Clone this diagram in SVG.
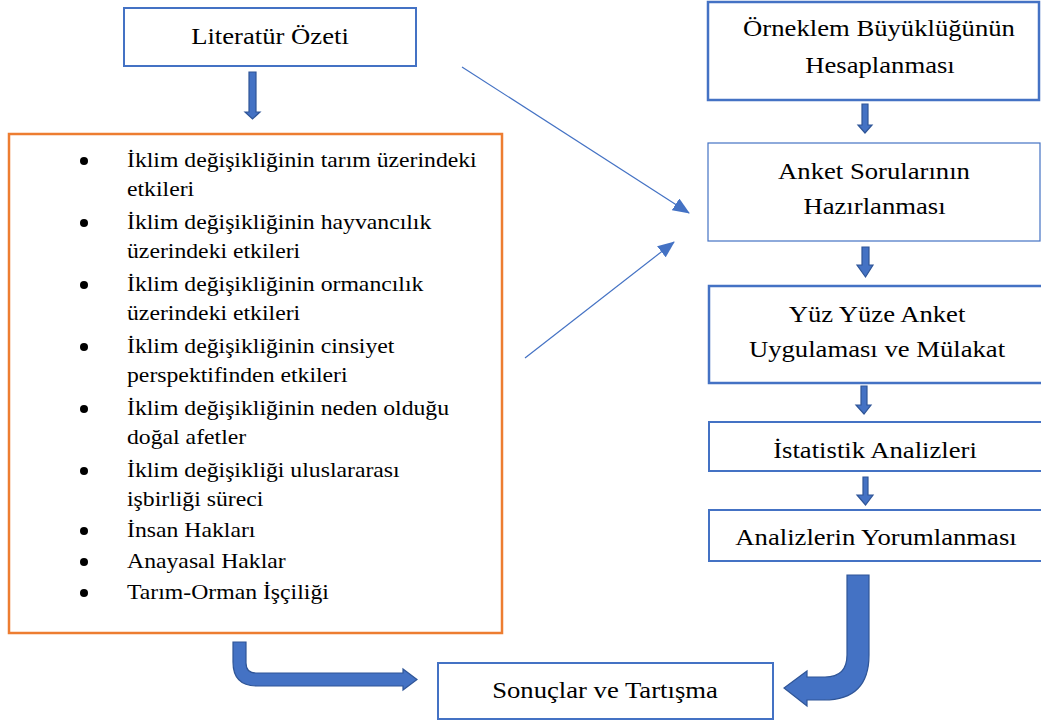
<svg xmlns="http://www.w3.org/2000/svg" width="1041" height="722" viewBox="0 0 1041 722">
<style>
  .box { fill: #ffffff; stroke: #4472C4; stroke-width: 2; }
  .obox { fill: #ffffff; stroke: #ED7D31; stroke-width: 2.5; }
  .lbl { font-size: 23px; fill: #000; text-anchor: middle; }
  .li { font-size: 21px; fill: #000; }
  .blk { fill: #4472C4; stroke: #2F5597; stroke-width: 1.2; stroke-linejoin: miter; }
  .thin { stroke: #4472C4; stroke-width: 1.2; fill: none; }
</style>
<defs>
  <marker id="ah" markerWidth="17" markerHeight="14" refX="16" refY="7" orient="auto" markerUnits="userSpaceOnUse" viewBox="0 0 17 14">
    <path d="M0,0 L17,7 L0,14 Z" fill="#4472C4"/>
  </marker>
</defs>
<rect width="1041" height="722" fill="#ffffff"/>

<g id="connectors">
  <path class="blk" d="M249,72 L256,72 L256,112 L260,112 L252.5,119 L245,112 L249,112 Z"/>
  <path class="blk" d="M862,104 L868,104 L868,125 L872,125 L865,133 L858,125 L862,125 Z"/>
  <path class="blk" d="M862,247 L869,247 L869,265 L873,265 L865.5,277 L857,265 L862,265 Z"/>
  <path class="blk" d="M861,386 L867,386 L867,405 L871,405 L864,414 L856,405 L861,405 Z"/>
  <path class="blk" d="M863,477 L868,477 L868,495 L873,495 L865.5,505 L857,495 L863,495 Z"/>
  <path class="blk" d="M233,642 L246,642 L246,663 Q246,673 256,673 L403,673 L403,669 L417,679.5 L403,690 L403,686 L257,686 Q233,686 233,662 Z"/>
  <path class="blk" d="M847,575 L869,575 L869,655 Q869,700 824,700 L807,700 L807,706 L784,688 L807,671 L807,677 L825,677 Q847,677 847,655 Z"/>
  <line class="thin" x1="462" y1="67" x2="689" y2="213" marker-end="url(#ah)"/>
  <line class="thin" x1="525" y1="358" x2="674" y2="242" marker-end="url(#ah)"/>
</g>

<g font-family="'Liberation Serif', 'Times New Roman', Times, serif">
<g id="literatur">
  <rect class="box" x="124" y="8" width="292" height="58"/>
  <text class="lbl" transform="translate(270,44) scale(1.16,1)">Literatür Özeti</text>
</g>

<g id="liste">
  <rect class="obox" x="9" y="134" width="493" height="499"/>
  <g fill="#000">
    <circle cx="84" cy="161" r="4"/>
    <circle cx="84" cy="223" r="4"/>
    <circle cx="84" cy="285" r="4"/>
    <circle cx="84" cy="347" r="4"/>
    <circle cx="84" cy="409" r="4"/>
    <circle cx="84" cy="471" r="4"/>
    <circle cx="84" cy="531" r="4"/>
    <circle cx="84" cy="562" r="4"/>
    <circle cx="84" cy="593" r="4"/>
  </g>
  <g transform="scale(1.13,1)">
    <text class="li" x="112.4" y="167">İklim değişikliğinin tarım üzerindeki</text>
    <text class="li" x="112.4" y="196">etkileri</text>
    <text class="li" x="112.4" y="229">İklim değişikliğinin hayvancılık</text>
    <text class="li" x="112.4" y="258">üzerindeki etkileri</text>
    <text class="li" x="112.4" y="291">İklim değişikliğinin ormancılık</text>
    <text class="li" x="112.4" y="320">üzerindeki etkileri</text>
    <text class="li" x="112.4" y="353">İklim değişikliğinin cinsiyet</text>
    <text class="li" x="112.4" y="382">perspektifinden etkileri</text>
    <text class="li" x="112.4" y="415">İklim değişikliğinin neden olduğu</text>
    <text class="li" x="112.4" y="444">doğal afetler</text>
    <text class="li" x="112.4" y="477">İklim değişikliği uluslararası</text>
    <text class="li" x="112.4" y="506">işbirliği süreci</text>
    <text class="li" x="112.4" y="537">İnsan Hakları</text>
    <text class="li" x="112.4" y="568">Anayasal Haklar</text>
    <text class="li" x="112.4" y="599">Tarım-Orman İşçiliği</text>
  </g>
</g>

<g id="orneklem">
  <rect class="box" x="708" y="2" width="331" height="98" style="stroke-width:2.5"/>
  <text class="lbl" transform="translate(879,36) scale(1.16,1)">Örneklem Büyüklüğünün</text>
  <text class="lbl" transform="translate(880,73) scale(1.16,1)">Hesaplanması</text>
</g>

<g id="anket">
  <rect class="box" x="708" y="143" width="332" height="98" style="stroke-width:1.2"/>
  <text class="lbl" transform="translate(874,179) scale(1.16,1)">Anket Sorularının</text>
  <text class="lbl" transform="translate(874.5,214) scale(1.16,1)">Hazırlanması</text>
</g>

<g id="yuzyuze">
  <rect class="box" x="709" y="286" width="340" height="97" style="stroke-width:2.5"/>
  <text class="lbl" transform="translate(877,322) scale(1.16,1)">Yüz Yüze Anket</text>
  <text class="lbl" transform="translate(877,357) scale(1.16,1)">Uygulaması ve Mülakat</text>
</g>

<g id="istatistik">
  <rect class="box" x="709" y="422" width="340" height="49"/>
  <text class="lbl" transform="translate(875,458) scale(1.16,1)">İstatistik Analizleri</text>
</g>

<g id="yorum">
  <rect class="box" x="709" y="510" width="340" height="51"/>
  <text class="lbl" transform="translate(876,545) scale(1.16,1)">Analizlerin Yorumlanması</text>
</g>

<g id="sonuclar">
  <rect class="box" x="438" y="663" width="335" height="56"/>
  <text class="lbl" transform="translate(605,698) scale(1.16,1)">Sonuçlar ve Tartışma</text>
</g>
</g>
</svg>
